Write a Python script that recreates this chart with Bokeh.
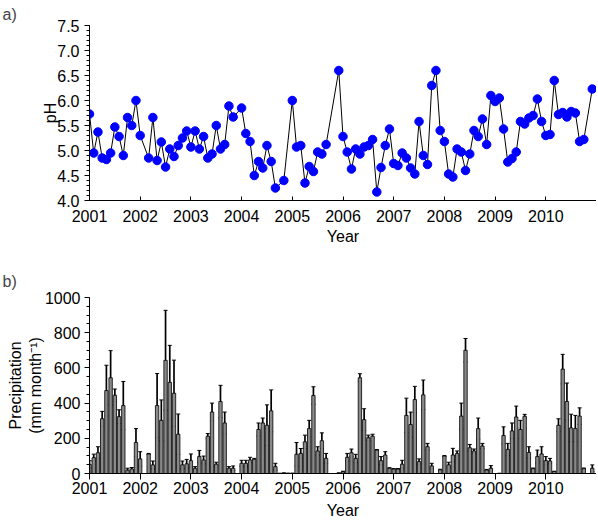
from bokeh.plotting import figure
from bokeh.models import (Range1d, FixedTicker, SingleIntervalTicker, NumeralTickFormatter,
                          ColumnDataSource, Whisker, TeeHead)
from bokeh.layouts import column
from bokeh.embed import file_html
from bokeh.resources import INLINE

# ---------------- data ----------------
years = list(range(2001, 2011))
year_labels = [str(y) for y in years]

# pH: month index (0 = Jan 2001) and value (missing months omitted)
ph_month = [0, 1, 2, 3, 4, 5, 6, 7, 8, 9, 10, 11,
            12, 14, 15, 16, 17, 18, 19, 20, 21, 22, 23,
            24, 25, 26, 27, 28, 29, 30, 31, 32, 33, 34,
            36, 37, 38, 39, 40, 41, 42, 43, 44, 46,
            48, 49, 50, 51, 52, 53, 54, 55, 56, 59,
            60, 61, 62, 63, 64, 65, 66, 67, 68, 69, 70, 71,
            72, 73, 74, 75, 76, 77, 78, 79, 80, 81, 82, 83,
            84, 85, 86, 87, 88, 89, 90, 91, 92, 93, 94, 95,
            96, 97, 98, 99, 100, 101, 102, 103, 104, 105, 106, 107,
            108, 109, 110, 111, 112, 113, 114, 115, 116, 117, 119]
ph_value = [5.73, 4.95, 5.37, 4.85, 4.82, 4.95, 5.47, 5.28, 4.90, 5.66, 5.50, 6.00,
            5.30, 4.85, 5.66, 4.80, 5.17, 4.67, 5.03, 4.88, 5.10, 5.25, 5.39,
            5.07, 5.39, 5.03, 5.28, 4.85, 4.93, 5.50, 5.03, 5.12, 5.89, 5.67,
            5.85, 5.34, 5.18, 4.50, 4.78, 4.65, 5.10, 4.78, 4.25, 4.40,
            6.00, 5.07, 5.10, 4.35, 4.68, 4.58, 4.97, 4.93, 5.12, 6.60,
            5.28, 4.97, 4.63, 5.03, 4.93, 5.07, 5.10, 5.22, 4.17, 4.66, 5.10, 5.43,
            4.74, 4.70, 4.95, 4.85, 4.65, 4.53, 5.58, 4.90, 4.72, 6.30, 6.60, 5.40,
            5.18, 4.53, 4.47, 5.03, 4.97, 4.60, 4.93, 5.40, 5.28, 5.63, 5.12, 6.10,
            5.98, 6.05, 5.43, 4.77, 4.84, 4.97, 5.58, 5.53, 5.65, 5.70, 6.03, 5.58,
            5.30, 5.32, 6.40, 5.72, 5.76, 5.67, 5.78, 5.75, 5.18, 5.22, 6.23]

# precipitation (mm month-1), monthly Jan 2001 .. Dec 2010, and its error
precip = [52, 90, 118, 311, 471, 544, 445, 323, 386, 19, 26, 176,
          83, 0, 111, 49, 386, 302, 643, 518, 456, 223, 49, 55,
          73, 30, 96, 77, 212, 349, 53, 409, 287, 30, 30, 0,
          58, 58, 77, 81, 250, 287, 274, 356, 39, 2, 5, 3,
          3, 109, 114, 180, 255, 443, 128, 186, 86, 0, 0, 5,
          10, 92, 118, 86, 544, 306, 203, 212, 133, 73, 105, 30,
          25, 25, 53, 330, 278, 420, 68, 447, 152, 43, 0, 21,
          99, 49, 105, 114, 326, 700, 146, 128, 255, 156, 20, 30,
          0, 2, 216, 137, 242, 321, 250, 325, 120, 28, 96, 111,
          73, 71, 11, 274, 593, 409, 259, 255, 326, 28, 0, 30]
precip_err = [21, 20, 34, 42, 144, 154, 35, 39, 137, 11, 8, 79,
              41, 0, 3, 22, 182, 116, 284, 210, 188, 115, 22, 25,
              38, 9, 35, 22, 15, 51, 11, 92, 62, 9, 13, 0,
              17, 17, 15, 5, 37, 28, 116, 119, 19, 0, 0, 0,
              0, 67, 28, 38, 47, 50, 24, 45, 28, 0, 0, 0,
              3, 22, 21, 23, 23, 62, 15, 11, 3, 23, 19, 3,
              3, 3, 22, 98, 71, 75, 15, 84, 19, 15, 0, 3,
              3, 15, 38, 14, 74, 67, 19, 11, 60, 15, 3, 15,
              0, 0, 49, 34, 45, 62, 52, 11, 32, 3, 37, 41,
              23, 15, 2, 37, 84, 105, 78, 75, 47, 3, 0, 19]

FONT = "Liberation Sans"
FS = "16px"


def style(p, ylabel):
    p.xgrid.visible = False
    p.ygrid.visible = False
    p.outline_line_color = None
    p.background_fill_color = "white"
    p.border_fill_color = "white"
    p.xaxis.ticker = FixedTicker(ticks=years, minor_ticks=[])
    p.xaxis.major_label_overrides = {y: s for y, s in zip(years, year_labels)}
    for ax in (p.xaxis[0], p.yaxis[0]):
        ax.axis_line_color = "black"
        ax.axis_line_width = 1
        ax.major_tick_line_color = "black"
        ax.minor_tick_line_color = "black"
        ax.major_label_text_font = FONT
        ax.major_label_text_font_size = FS
        ax.major_label_text_color = "black"
        ax.axis_label_text_font = FONT
        ax.axis_label_text_font_size = FS
        ax.axis_label_text_font_style = "normal"
        ax.axis_label_text_color = "black"
    p.xaxis.axis_label = "Year"
    p.yaxis.axis_label = ylabel
    p.title.text_font = FONT
    p.title.text_font_size = FS
    p.title.text_font_style = "normal"
    p.title.align = "left"
    p.title.offset = -87


# ---------------- top: pH ----------------
top = figure(width=596, height=247, x_range=Range1d(2001, 2011), y_range=Range1d(4.0, 7.5),
             output_backend="svg", toolbar_location=None, title="a)",
             min_border_left=89, min_border_right=0, min_border_top=25, min_border_bottom=45)
style(top, "pH")
top.title.standoff = 6
top.yaxis.ticker = SingleIntervalTicker(interval=0.5, num_minor_ticks=5)
top.yaxis.formatter = NumeralTickFormatter(format="0.0")
top.yaxis.major_tick_out = 5
top.yaxis.major_tick_in = 0
top.yaxis.minor_tick_out = 3
top.yaxis.minor_tick_in = 0
top.yaxis.major_label_standoff = 5
top.yaxis.axis_label_standoff = -5
top.xaxis.major_tick_in = 4
top.xaxis.major_tick_out = 0
top.xaxis.major_label_standoff = 9
top.xaxis.axis_label_standoff = 3

ph_x = [2001 + m / 12 for m in ph_month]
top.line(ph_x, ph_value, line_color="black", line_width=1)
top.scatter(ph_x, ph_value, size=8.5, fill_color="#0000ff", line_color="#0000ff")

# ---------------- bottom: precipitation ----------------
bot = figure(width=596, height=274, x_range=Range1d(2001, 2011), y_range=Range1d(0, 1000),
             output_backend="svg", toolbar_location=None, title="b)",
             min_border_left=89, min_border_right=0, min_border_top=50, min_border_bottom=47)
style(bot, "Precipitation\n(mm month\u207b\u00b9)")
bot.title.standoff = 16
bot.yaxis.ticker = SingleIntervalTicker(interval=200, num_minor_ticks=4)
bot.yaxis.major_tick_out = 5
bot.yaxis.major_tick_in = 0
bot.yaxis.minor_tick_out = 3
bot.yaxis.minor_tick_in = 0
bot.yaxis.major_label_standoff = 4
bot.yaxis.axis_label_standoff = -2
bot.xaxis.major_tick_in = 0
bot.xaxis.major_tick_out = 6
bot.xaxis.major_label_standoff = 2
bot.xaxis.axis_label_standoff = 5

bx = [2001 + i / 12 for i in range(len(precip))]
bot.vbar(x=bx, top=precip, bottom=0, width=0.8 / 12, fill_color="#8a8a8a",
         line_color="black", line_width=0.8)

ex, eu, el = [], [], []
for x, v, e in zip(bx, precip, precip_err):
    if e > 0:
        ex.append(x)
        eu.append(v + e)
        el.append(max(0, v - e))
src = ColumnDataSource(dict(x=ex, upper=eu, lower=el))
wh = Whisker(source=src, base="x", upper="upper", lower="lower", line_color="black", line_width=1.7,
             upper_head=TeeHead(size=4, line_color="black", line_width=1),
             lower_head=TeeHead(size=4, line_color="black", line_width=1))
bot.add_layout(wh)

layout = column(top, bot, spacing=0)
open("out.html", "w").write(file_html(layout, INLINE))
